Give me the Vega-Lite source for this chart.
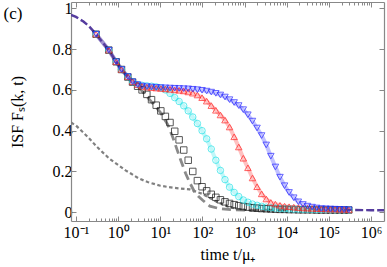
{
  "$schema": "https://vega.github.io/schema/vega-lite/v6.json",
  "width": 313,
  "height": 219,
  "autosize": {"type": "none"},
  "padding": {"left": 71, "top": 2, "right": 3, "bottom": 46},
  "background": "white",
  "config": {
    "view": {"stroke": null},
    "font": "Liberation Serif",
    "axis": {
      "grid": false,
      "domainColor": "#888888",
      "tickColor": "#888888",
      "domainWidth": 1.2,
      "tickWidth": 1,
      "labelFont": "Liberation Serif",
      "labelFontSize": 16,
      "labelColor": "#000000",
      "titleFont": "Liberation Serif",
      "titleFontSize": 16,
      "titleFontWeight": "normal",
      "titleColor": "#000000",
      "labelFlush": false,
      "labelOverlap": false
    }
  },
  "datasets": {
    "markers": [
      {"s":"black","t":0.3,"v":0.873},{"s":"black","t":0.6,"v":0.795},{"s":"black","t":0.9,"v":0.738},{"s":"black","t":1.2,"v":0.70},{"s":"black","t":1.7,"v":0.663},{"s":"black","t":2.2,"v":0.638},{"s":"black","t":2.9,"v":0.618},{"s":"black","t":3.7,"v":0.6},{"s":"black","t":4.8,"v":0.578},{"s":"black","t":6.2,"v":0.552},{"s":"black","t":8,"v":0.525},{"s":"black","t":10.3,"v":0.497},{"s":"black","t":13.2,"v":0.47},{"s":"black","t":17,"v":0.44},{"s":"black","t":22,"v":0.397},{"s":"black","t":28,"v":0.355},{"s":"black","t":36,"v":0.305},{"s":"black","t":46,"v":0.255},{"s":"black","t":59,"v":0.2},{"s":"black","t":76,"v":0.155},{"s":"black","t":98,"v":0.125},{"s":"black","t":126,"v":0.105},{"s":"black","t":162,"v":0.088},{"s":"black","t":208,"v":0.073},{"s":"black","t":267,"v":0.061},{"s":"black","t":343,"v":0.051},{"s":"black","t":440,"v":0.043},{"s":"black","t":566,"v":0.037},{"s":"black","t":727,"v":0.032},{"s":"black","t":934,"v":0.028},{"s":"black","t":1200,"v":0.025},{"s":"black","t":1540,"v":0.022},{"s":"black","t":1980,"v":0.02},{"s":"black","t":2540,"v":0.018},{"s":"black","t":3270,"v":0.017},{"s":"black","t":4200,"v":0.016},{"s":"black","t":5400,"v":0.015},{"s":"black","t":6930,"v":0.014},{"s":"black","t":8900,"v":0.014},{"s":"black","t":11400,"v":0.013},{"s":"black","t":14700,"v":0.013},{"s":"black","t":18900,"v":0.012},{"s":"black","t":24300,"v":0.012},{"s":"black","t":31200,"v":0.012},{"s":"black","t":40000,"v":0.012},{"s":"black","t":51500,"v":0.011},{"s":"black","t":66100,"v":0.011},{"s":"black","t":85000,"v":0.011},{"s":"black","t":109000,"v":0.011},{"s":"black","t":140000,"v":0.011},{"s":"black","t":180000,"v":0.011},{"s":"black","t":231000,"v":0.011},{"s":"black","t":297000,"v":0.011},
      {"s":"cyan","t":0.3,"v":0.873},{"s":"cyan","t":0.6,"v":0.795},{"s":"cyan","t":0.9,"v":0.738},{"s":"cyan","t":1.2,"v":0.70},{"s":"cyan","t":1.7,"v":0.665},{"s":"cyan","t":2.2,"v":0.64},{"s":"cyan","t":2.9,"v":0.626},{"s":"cyan","t":3.7,"v":0.622},{"s":"cyan","t":4.8,"v":0.62},{"s":"cyan","t":6.2,"v":0.618},{"s":"cyan","t":8,"v":0.615},{"s":"cyan","t":10.3,"v":0.61},{"s":"cyan","t":13.2,"v":0.6},{"s":"cyan","t":17,"v":0.583},{"s":"cyan","t":22,"v":0.562},{"s":"cyan","t":28,"v":0.543},{"s":"cyan","t":36,"v":0.522},{"s":"cyan","t":46,"v":0.497},{"s":"cyan","t":59,"v":0.467},{"s":"cyan","t":76,"v":0.435},{"s":"cyan","t":98,"v":0.4},{"s":"cyan","t":126,"v":0.36},{"s":"cyan","t":162,"v":0.31},{"s":"cyan","t":208,"v":0.255},{"s":"cyan","t":267,"v":0.205},{"s":"cyan","t":343,"v":0.16},{"s":"cyan","t":440,"v":0.123},{"s":"cyan","t":566,"v":0.097},{"s":"cyan","t":727,"v":0.077},{"s":"cyan","t":934,"v":0.06},{"s":"cyan","t":1200,"v":0.049},{"s":"cyan","t":1540,"v":0.04},{"s":"cyan","t":1980,"v":0.034},{"s":"cyan","t":2540,"v":0.029},{"s":"cyan","t":3270,"v":0.025},{"s":"cyan","t":4200,"v":0.022},{"s":"cyan","t":5400,"v":0.02},{"s":"cyan","t":6930,"v":0.018},{"s":"cyan","t":8900,"v":0.017},{"s":"cyan","t":11400,"v":0.016},{"s":"cyan","t":14700,"v":0.015},{"s":"cyan","t":18900,"v":0.015},{"s":"cyan","t":24300,"v":0.014},{"s":"cyan","t":31200,"v":0.014},{"s":"cyan","t":40000,"v":0.014},{"s":"cyan","t":51500,"v":0.013},{"s":"cyan","t":66100,"v":0.013},{"s":"cyan","t":85000,"v":0.013},{"s":"cyan","t":109000,"v":0.012},{"s":"cyan","t":140000,"v":0.012},{"s":"cyan","t":180000,"v":0.012},{"s":"cyan","t":231000,"v":0.012},{"s":"cyan","t":297000,"v":0.012},
      {"s":"red","t":0.3,"v":0.873},{"s":"red","t":0.6,"v":0.795},{"s":"red","t":0.9,"v":0.738},{"s":"red","t":1.2,"v":0.70},{"s":"red","t":1.7,"v":0.665},{"s":"red","t":2.2,"v":0.64},{"s":"red","t":2.9,"v":0.626},{"s":"red","t":3.7,"v":0.618},{"s":"red","t":4.8,"v":0.614},{"s":"red","t":6.2,"v":0.611},{"s":"red","t":8,"v":0.609},{"s":"red","t":10.3,"v":0.607},{"s":"red","t":13.2,"v":0.605},{"s":"red","t":17,"v":0.603},{"s":"red","t":22,"v":0.6},{"s":"red","t":28,"v":0.598},{"s":"red","t":36,"v":0.595},{"s":"red","t":46,"v":0.59},{"s":"red","t":59,"v":0.584},{"s":"red","t":76,"v":0.575},{"s":"red","t":98,"v":0.562},{"s":"red","t":126,"v":0.545},{"s":"red","t":162,"v":0.523},{"s":"red","t":208,"v":0.5},{"s":"red","t":267,"v":0.477},{"s":"red","t":343,"v":0.452},{"s":"red","t":440,"v":0.418},{"s":"red","t":566,"v":0.37},{"s":"red","t":727,"v":0.32},{"s":"red","t":934,"v":0.265},{"s":"red","t":1200,"v":0.218},{"s":"red","t":1540,"v":0.168},{"s":"red","t":1980,"v":0.125},{"s":"red","t":2540,"v":0.09},{"s":"red","t":3270,"v":0.065},{"s":"red","t":4200,"v":0.048},{"s":"red","t":5400,"v":0.04},{"s":"red","t":6930,"v":0.034},{"s":"red","t":8900,"v":0.03},{"s":"red","t":11400,"v":0.027},{"s":"red","t":14700,"v":0.025},{"s":"red","t":18900,"v":0.023},{"s":"red","t":24300,"v":0.021},{"s":"red","t":31200,"v":0.02},{"s":"red","t":40000,"v":0.019},{"s":"red","t":51500,"v":0.018},{"s":"red","t":66100,"v":0.017},{"s":"red","t":85000,"v":0.016},{"s":"red","t":109000,"v":0.015},{"s":"red","t":140000,"v":0.015},{"s":"red","t":180000,"v":0.014},{"s":"red","t":231000,"v":0.014},{"s":"red","t":297000,"v":0.013},
      {"s":"blue","t":0.3,"v":0.873},{"s":"blue","t":0.6,"v":0.795},{"s":"blue","t":0.9,"v":0.738},{"s":"blue","t":1.2,"v":0.70},{"s":"blue","t":1.7,"v":0.665},{"s":"blue","t":2.2,"v":0.64},{"s":"blue","t":2.9,"v":0.626},{"s":"blue","t":3.7,"v":0.619},{"s":"blue","t":4.8,"v":0.616},{"s":"blue","t":6.2,"v":0.614},{"s":"blue","t":8,"v":0.612},{"s":"blue","t":10.3,"v":0.611},{"s":"blue","t":13.2,"v":0.61},{"s":"blue","t":17,"v":0.609},{"s":"blue","t":22,"v":0.608},{"s":"blue","t":28,"v":0.607},{"s":"blue","t":36,"v":0.606},{"s":"blue","t":46,"v":0.605},{"s":"blue","t":59,"v":0.603},{"s":"blue","t":76,"v":0.601},{"s":"blue","t":98,"v":0.598},{"s":"blue","t":126,"v":0.594},{"s":"blue","t":162,"v":0.589},{"s":"blue","t":208,"v":0.583},{"s":"blue","t":267,"v":0.575},{"s":"blue","t":343,"v":0.565},{"s":"blue","t":440,"v":0.552},{"s":"blue","t":566,"v":0.538},{"s":"blue","t":727,"v":0.523},{"s":"blue","t":934,"v":0.503},{"s":"blue","t":1200,"v":0.478},{"s":"blue","t":1540,"v":0.447},{"s":"blue","t":1980,"v":0.413},{"s":"blue","t":2540,"v":0.376},{"s":"blue","t":3270,"v":0.33},{"s":"blue","t":4200,"v":0.275},{"s":"blue","t":5400,"v":0.222},{"s":"blue","t":6930,"v":0.172},{"s":"blue","t":8900,"v":0.13},{"s":"blue","t":11400,"v":0.097},{"s":"blue","t":14700,"v":0.071},{"s":"blue","t":18900,"v":0.051},{"s":"blue","t":24300,"v":0.038},{"s":"blue","t":31200,"v":0.03},{"s":"blue","t":40000,"v":0.025},{"s":"blue","t":51500,"v":0.021},{"s":"blue","t":66100,"v":0.018},{"s":"blue","t":85000,"v":0.017},{"s":"blue","t":109000,"v":0.016},{"s":"blue","t":140000,"v":0.015},{"s":"blue","t":180000,"v":0.014},{"s":"blue","t":231000,"v":0.013},{"s":"blue","t":297000,"v":0.012}
    ],
    "purple": [
      {"seg":"a","t":0.0761,"v":0.968},{"seg":"a","t":0.1,"v":0.958},{"seg":"a","t":0.15,"v":0.935},{"seg":"a","t":0.2,"v":0.914},{"seg":"a","t":0.3,"v":0.873},{"seg":"a","t":0.6,"v":0.795},{"seg":"a","t":0.9,"v":0.738},{"seg":"a","t":1.2,"v":0.70},{"seg":"a","t":1.7,"v":0.665},
      {"seg":"b","t":231000,"v":0.013},{"seg":"b","t":400000,"v":0.011},{"seg":"b","t":1000000,"v":0.01},{"seg":"b","t":2035000,"v":0.01}
    ],
    "longdash": [
      {"t":3,"v":0.615},{"t":5.7,"v":0.55},{"t":10,"v":0.49},{"t":15,"v":0.43},{"t":20,"v":0.365},{"t":30,"v":0.26},{"t":40,"v":0.19},{"t":50,"v":0.145},{"t":65,"v":0.1},{"t":80,"v":0.078},{"t":100,"v":0.06},{"t":150,"v":0.03},{"t":250,"v":0.018},{"t":500,"v":0.012},{"t":1000,"v":0.01},{"t":10000,"v":0.01}
    ],
    "shortdash": [
      {"t":0.0761,"v":0.44},{"t":0.1,"v":0.425},{"t":0.15,"v":0.39},{"t":0.2,"v":0.365},{"t":0.3,"v":0.325},{"t":0.4,"v":0.3},{"t":0.6,"v":0.265},{"t":1,"v":0.232},{"t":1.5,"v":0.205},{"t":2,"v":0.19},{"t":3,"v":0.167},{"t":5,"v":0.148},{"t":10,"v":0.13},{"t":20,"v":0.12},{"t":50,"v":0.112},{"t":100,"v":0.09},{"t":150,"v":0.07},{"t":250,"v":0.045},{"t":400,"v":0.028},{"t":700,"v":0.015},{"t":1500,"v":0.008},{"t":5000,"v":0.005}
    ]
  },
  "layer": [
    {
      "data": {"name": "markers"},
      "transform": [{"filter": "datum.s != 'black'"}],
      "mark": {"type": "line", "strokeWidth": 4, "opacity": 0.28, "clip": true},
      "encoding": {
        "x": {"field": "t", "type": "quantitative",
          "scale": {"type": "log", "domain": [0.0761, 2035000], "nice": false},
          "axis": {"orient": "bottom", "values": [0.1,1,10,100,1000,10000,100000,1000000], "tickSize": -5, "labelPadding": 8,
            "labelExpr": "datum.value < 0.5 ? '10⁻¹' : datum.value < 5 ? '10⁰' : datum.value < 50 ? '10¹' : datum.value < 500 ? '10²' : datum.value < 5000 ? '10³' : datum.value < 50000 ? '10⁴' : datum.value < 500000 ? '10⁵' : '10⁶'",
            "title": "time t/μ₊", "titlePadding": 6}},
        "y": {"field": "v", "type": "quantitative",
          "scale": {"domain": [-0.043, 1.031], "nice": false, "zero": false},
          "axis": {"orient": "left", "values": [0,0.2,0.4,0.6,0.8,1], "tickSize": -5, "labelPadding": 4, "format": "~g",
            "title": "ISF  Fₛ(k, t)", "titlePadding": 27}},
        "detail": {"field": "s"},
        "color": {"field": "s", "type": "nominal", "legend": null,
          "scale": {"domain": ["black","cyan","red","blue"], "range": ["#111111","#22e3e8","#ff1f1f","#2222ff"]}}
      }
    },
    {
      "data": {"name": "longdash"},
      "mark": {"type": "line", "color": "#8a8a8a", "strokeWidth": 2.8, "strokeDash": [9, 5], "clip": true},
      "encoding": {
        "x": {"field": "t", "type": "quantitative",
          "scale": {"type": "log", "domain": [0.0761, 2035000], "nice": false},
          "axis": {"orient": "bottom", "values": [0.2,0.3,0.4,0.5,0.6,0.7,0.8,0.9,2,3,4,5,6,7,8,9,20,30,40,50,60,70,80,90,200,300,400,500,600,700,800,900,2000,3000,4000,5000,6000,7000,8000,9000,20000,30000,40000,50000,60000,70000,80000,90000,200000,300000,400000,500000,600000,700000,800000,900000], "tickSize": -3, "labels": false, "domain": false, "title": null}},
        "y": {"field": "v", "type": "quantitative",
          "scale": {"domain": [-0.043, 1.031], "nice": false, "zero": false},
          "axis": {"orient": "right", "values": [0,0.2,0.4,0.6,0.8,1], "tickSize": -5, "labels": false, "title": null}}
      }
    },
    {
      "data": {"name": "shortdash"},
      "mark": {"type": "line", "color": "#808080", "strokeWidth": 2.2, "strokeDash": [3.5, 2.5], "clip": true},
      "encoding": {
        "x": {"field": "t", "type": "quantitative",
          "scale": {"type": "log", "domain": [0.0761, 2035000], "nice": false},
          "axis": {"orient": "top", "values": [0.1,1,10,100,1000,10000,100000,1000000], "tickSize": -5, "labels": false,
            "title": "(c)", "titleX": -68, "titleY": 16, "titleAlign": "left", "titleBaseline": "alphabetic", "titleAngle": 0, "titleFontSize": 17}},
        "y": {"field": "v", "type": "quantitative",
          "scale": {"domain": [-0.043, 1.031], "nice": false, "zero": false}, "axis": null}
      }
    },
    {
      "data": {"name": "purple"},
      "mark": {"type": "line", "color": "#553c9e", "strokeWidth": 2.4, "strokeDash": [8, 3], "clip": true},
      "encoding": {
        "x": {"field": "t", "type": "quantitative",
          "scale": {"type": "log", "domain": [0.0761, 2035000], "nice": false},
          "axis": {"orient": "top", "values": [0.2,0.3,0.4,0.5,0.6,0.7,0.8,0.9,2,3,4,5,6,7,8,9,20,30,40,50,60,70,80,90,200,300,400,500,600,700,800,900,2000,3000,4000,5000,6000,7000,8000,9000,20000,30000,40000,50000,60000,70000,80000,90000,200000,300000,400000,500000,600000,700000,800000,900000], "tickSize": -3, "labels": false, "domain": false, "title": null}},
        "y": {"field": "v", "type": "quantitative",
          "scale": {"domain": [-0.043, 1.031], "nice": false, "zero": false}, "axis": null},
        "detail": {"field": "seg"}
      }
    },
    {
      "data": {"name": "markers"},
      "mark": {"type": "point", "filled": false, "strokeWidth": 1, "size": 42, "clip": true},
      "encoding": {
        "x": {"field": "t", "type": "quantitative",
          "scale": {"type": "log", "domain": [0.0761, 2035000], "nice": false}, "axis": null},
        "y": {"field": "v", "type": "quantitative",
          "scale": {"domain": [-0.043, 1.031], "nice": false, "zero": false}, "axis": null},
        "color": {"field": "s", "type": "nominal", "legend": null,
          "scale": {"domain": ["black","cyan","red","blue"], "range": ["#111111","#22e3e8","#ff1f1f","#2222ff"]}},
        "shape": {"field": "s", "type": "nominal", "legend": null,
          "scale": {"domain": ["black","cyan","red","blue"], "range": ["square","circle","triangle-up","triangle-down"]}}
      }
    }
  ],
  "resolve": {"axis": {"x": "independent", "y": "independent"}}
}
